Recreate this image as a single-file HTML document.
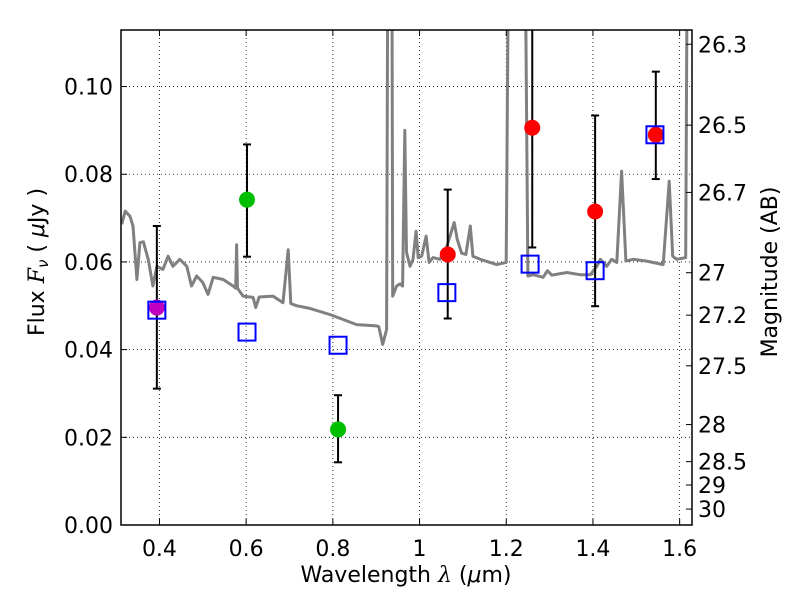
<!DOCTYPE html>
<html><head><meta charset="utf-8"><style>
html,body{margin:0;padding:0;background:#fff;width:800px;height:600px;overflow:hidden}
svg text{font-family:"DejaVu Sans","Liberation Sans",sans-serif;fill:#000}
</style></head><body>
<svg id="chart" width="800" height="600" viewBox="0 0 800 600" xmlns="http://www.w3.org/2000/svg"></svg>
<script>
const specX=[0.313,0.321,0.332,0.339,0.348,0.355,0.363,0.374,0.385,0.394,0.408,0.42,0.431,0.447,0.463,0.474,0.486,0.5,0.512,0.524,0.547,0.57,0.576,0.578,0.58,0.593,0.616,0.622,0.63,0.662,0.685,0.697,0.703,0.717,0.747,0.793,0.823,0.855,0.901,0.906,0.915,0.924,0.927,0.936,0.938,0.947,0.955,0.961,0.966,0.97,0.978,0.985,0.992,0.997,1.005,1.015,1.022,1.031,1.047,1.063,1.08,1.087,1.097,1.107,1.117,1.123,1.14,1.178,1.2,1.206,1.222,1.243,1.25,1.262,1.285,1.295,1.305,1.34,1.37,1.394,1.409,1.417,1.432,1.443,1.455,1.466,1.476,1.493,1.524,1.562,1.576,1.584,1.593,1.614,1.618,1.63];
const specY=[0.0686,0.0716,0.0704,0.0682,0.056,0.0644,0.0646,0.0606,0.0545,0.059,0.0583,0.0613,0.059,0.0606,0.059,0.0545,0.0568,0.0553,0.0526,0.0565,0.056,0.0545,0.054,0.0639,0.054,0.0522,0.0519,0.0496,0.052,0.0522,0.0507,0.0628,0.0505,0.05,0.0494,0.048,0.0469,0.0457,0.0454,0.0452,0.0412,0.0446,0.14,0.14,0.0522,0.0545,0.055,0.0545,0.09,0.0622,0.059,0.0606,0.067,0.061,0.0613,0.0659,0.0599,0.061,0.0606,0.0636,0.069,0.0651,0.062,0.0617,0.0682,0.0613,0.0606,0.0594,0.0599,0.14,0.14,0.14,0.0568,0.0571,0.0565,0.058,0.057,0.0576,0.0571,0.0571,0.059,0.0606,0.059,0.0606,0.0599,0.0807,0.0602,0.0606,0.0602,0.0594,0.0784,0.0613,0.0606,0.061,0.14,0.14];
const sqX=[0.394,0.602,0.812,1.063,1.255,1.405,1.543];
const sqY=[0.049,0.044,0.041,0.053,0.0595,0.058,0.089];
const ptX=[0.394,0.602,0.812,1.065,1.26,1.405,1.545];
const ptY=[0.0496,0.0742,0.0218,0.0617,0.0906,0.0715,0.089];
const ptLo=[0.0311,0.0612,0.0143,0.0471,0.0633,0.0499,0.0789];
const ptHi=[0.0682,0.0868,0.0296,0.0765,0.118,0.0934,0.1034];
const ptColor=['#bf00bf','#00bf00','#00bf00','#ff0000','#ff0000','#ff0000','#ff0000'];
const xTicks=[0.4,0.6,0.8,1.0,1.2,1.4,1.6];
const xTickLabels=['0.4','0.6','0.8','1','1.2','1.4','1.6'];
const yTicks=[0,0.02,0.04,0.06,0.08,0.10];
const yTickLabels=['0.00','0.02','0.04','0.06','0.08','0.10'];
const magTicks=[26.3,26.5,26.7,27,27.2,27.5,28,28.5,29,30];
const magLabels=['26.3','26.5','26.7','27','27.2','27.5','28','28.5','29','30'];

const L=121,R=692,T=30,B=525;
const X0=0.3113,X1=1.6285,Y0=0,Y1=0.1129;
const sx=v=>L+(v-X0)/(X1-X0)*(R-L);
const sy=v=>B-(v-Y0)/(Y1-Y0)*(B-T);
const svg=document.getElementById('chart');
const NS='http://www.w3.org/2000/svg';
function mk(tag,attrs,parent){const e=document.createElementNS(NS,tag);for(const k in attrs)e.setAttribute(k,attrs[k]);(parent||svg).appendChild(e);return e;}

const clip=mk('clipPath',{id:'pc'});mk('rect',{x:L,y:T,width:R-L,height:B-T},clip);

const grid=mk('g',{});


xTicks.forEach(t=>{const x=sx(t);if(x<R-1)mk('line',{x1:x,x2:x,y1:T,y2:B,stroke:'#000','stroke-width':0.8,'stroke-dasharray':'1,3'},grid);});
yTicks.forEach(t=>{const y=sy(t);mk('line',{x1:L,x2:R,y1:y,y2:y,stroke:'#000','stroke-width':0.8,'stroke-dasharray':'1,3'},grid);});

const pd=specX.map((v,i)=>(i?'L':'M')+sx(v).toFixed(1)+','+sy(specY[i]).toFixed(1)).join('');
const spec=mk('path',{d:pd,fill:'none',stroke:'#808080','stroke-width':3,'stroke-linejoin':'round','clip-path':'url(#pc)'});



ptX.forEach((v,i)=>{
  const x=sx(v);
  const g=mk('g',{'clip-path':'url(#pc)'});
  
  
  mk('line',{x1:x,x2:x,y1:sy(ptLo[i]),y2:sy(ptHi[i]),stroke:'#000','stroke-width':2},g);
  [ptLo[i],ptHi[i]].forEach(e=>mk('line',{x1:x-4,x2:x+4,y1:sy(e),y2:sy(e),stroke:'#000','stroke-width':2},g));
  mk('circle',{cx:x,cy:sy(ptY[i]),r:8,fill:ptColor[i]},g);
});
sqX.forEach((v,i)=>{
  const s=mk('rect',{x:sx(v)-8.5,y:sy(sqY[i])-8.5,width:17,height:17,fill:'none',stroke:'#0000ff','stroke-width':2});
  
  
});

const fr=mk('rect',{x:L,y:T,width:R-L,height:B-T,fill:'none',stroke:'#000','stroke-width':1.5});



xTicks.forEach((t,i)=>{
  const x=sx(t);
  mk('line',{x1:x,x2:x,y1:B,y2:B-6,stroke:'#000'});
  mk('line',{x1:x,x2:x,y1:T,y2:T+6,stroke:'#000'});
  const tx=mk('text',{x:x,y:B+31,'text-anchor':'middle','font-size':22});
  tx.textContent=xTickLabels[i];
  
  
});
yTicks.forEach((t,i)=>{
  const y=sy(t);
  mk('line',{x1:L,x2:L+6,y1:y,y2:y,stroke:'#000'});
  const tx=mk('text',{x:L-8,y:y+8,'text-anchor':'end','font-size':22});
  tx.textContent=yTickLabels[i];
  
  
});
magTicks.forEach((m,i)=>{
  const y=sy(Math.pow(10,(23.9-m)/2.5));
  mk('line',{x1:R,x2:R-6,y1:y,y2:y,stroke:'#000'});
  const tx=mk('text',{x:R+6,y:y+8,'text-anchor':'start','font-size':22});
  tx.textContent=magLabels[i];
  
  
});
</script>
<svg style="position:absolute;left:0;top:0" width="800" height="600">
<text x="406" y="582" text-anchor="middle" font-size="22" style="font-family:'DejaVu Sans',sans-serif">Wavelength  <tspan font-style="italic" font-family="'DejaVu Serif',serif">λ</tspan> (<tspan font-style="italic">μ</tspan>m)</text>
<text transform="translate(44,262) rotate(-90)" text-anchor="middle" font-size="22" style="font-family:'DejaVu Sans',sans-serif">Flux  <tspan font-style="italic" font-family="'DejaVu Serif',serif">F</tspan><tspan font-style="italic" font-size="15" dy="4">ν</tspan><tspan dy="-4">  (  </tspan><tspan font-style="italic">μ</tspan>Jy )</text>
<text transform="translate(777,272) rotate(-90)" text-anchor="middle" font-size="22" style="font-family:'DejaVu Sans',sans-serif">Magnitude (AB)</text>
</svg>
</body></html>
